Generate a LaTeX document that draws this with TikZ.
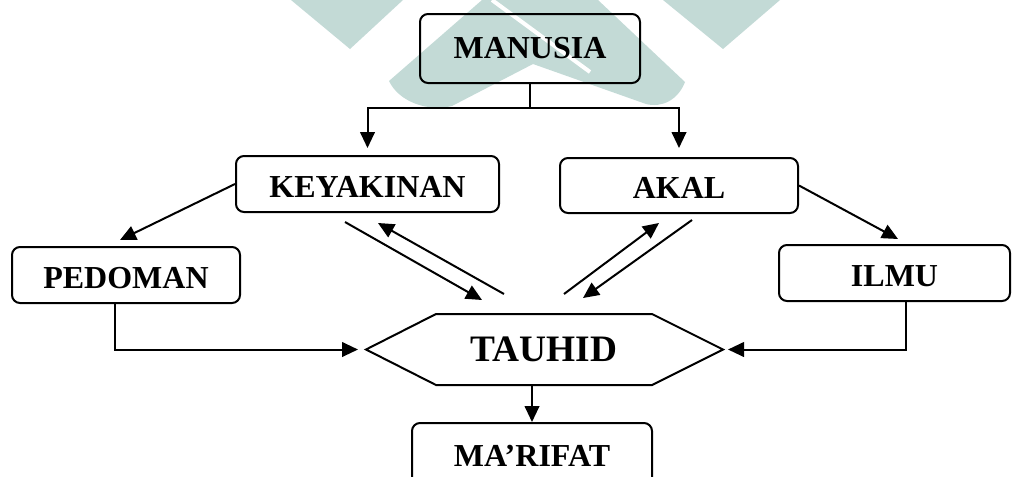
\documentclass[tikz,border=0pt]{standalone}
\usepackage{fontspec}
\setmainfont{Liberation Serif}
\usetikzlibrary{arrows.meta}

\definecolor{wmteal}{RGB}{195,218,214}

\tikzset{
  box/.style={draw, line width=1.5pt, rounded corners=6pt, inner sep=0pt,
    font=\bfseries\fontsize{24}{28}\selectfont},
  low/.style={text height=20pt, text depth=0pt},
  ln/.style={line width=1.5pt},
  arr/.style={line width=1.5pt, -{Triangle[length=12pt,width=11pt]}},
  wm/.style={fill=wmteal, draw=none}
}

\begin{document}
\begin{tikzpicture}[x=0.75pt,y=0.75pt,yscale=-1,xscale=1]

\useasboundingbox (0,0) rectangle (1013,476);
\clip (0,0) rectangle (1013,476);

% watermark
\fill[wm] (291,0) -- (403,0) -- (350,49) -- cycle;
\fill[wm] (663,0) -- (780,0) -- (723,49) -- cycle;
\fill[wm] (389,81) -- (482,0) -- (598,0) -- (685,82) .. controls (678,100) and (662,108) .. (646,104) -- (533,64) -- (452,106) .. controls (428,112) and (399,102) .. (389,81) -- cycle;
\draw[white, line width=3pt] (492,0) -- (590,72);

% boxes
\node[box, minimum width=165pt, minimum height=51.75pt] (manusia) at (530,48.5) {MANUSIA};
\node[box, low, minimum width=197.25pt, minimum height=42pt] (keyakinan) at (367.5,184) {KEYAKINAN};
\node[box, low, minimum width=178.5pt, minimum height=41.25pt] (akal) at (679,185.5) {AKAL};
\node[box, low, minimum width=171pt, minimum height=42pt] (pedoman) at (126,275) {PEDOMAN};
\node[box, low, minimum width=173.25pt, minimum height=42pt] (ilmu) at (894.5,273) {ILMU};
\node[box, draw=none, minimum width=160.5pt, minimum height=51.75pt,
  font=\bfseries\fontsize{28}{32}\selectfont] (tauhid) at (544,349.5) {TAUHID};
\node[box, minimum width=180pt, minimum height=48.75pt] (marifat) at (532,455.5) {MA'RIFAT};

% hexagon round TAUHID
\coordinate (tl) at (366,349.5);
\coordinate (tr) at (723,349.5);
\draw[ln] (tauhid.north west) -- (tauhid.north east) -- (tr) -- (tauhid.south east) -- (tauhid.south west) -- (tl) -- cycle;

\coordinate (split) at (530,108);
\coordinate (kp) at (120,240);
\coordinate (ai) at (898,239);
\coordinate (k1) at (345,222);
\coordinate (k2) at (482,300);
\coordinate (k3) at (504,294);
\coordinate (k4) at (378,223);
\coordinate (a1) at (564,294);
\coordinate (a2) at (659,223);
\coordinate (a3) at (692,220);
\coordinate (a4) at (583,298);

% connectors
\draw[ln] (manusia.south) -- (split);
\draw[arr, shorten >=5.25pt] (split) -| (keyakinan.north);
\draw[arr, shorten >=6.75pt] (split) -| (akal.north);
\draw[arr] (keyakinan.west) -- (kp);
\draw[arr] (akal.east) -- (ai);
\draw[arr] (k1) -- (k2);
\draw[arr] (k3) -- (k4);
\draw[arr] (a1) -- (a2);
\draw[arr] (a3) -- (a4);
\draw[arr, shorten >=6pt] ([xshift=-8.25pt]pedoman.south) |- (tl);
\draw[arr, shorten >=3.75pt] ([xshift=8.25pt]ilmu.south) |- (tr);
\draw[arr] (tauhid.south -| marifat.north) -- (marifat.north);

\end{tikzpicture}
\end{document}
